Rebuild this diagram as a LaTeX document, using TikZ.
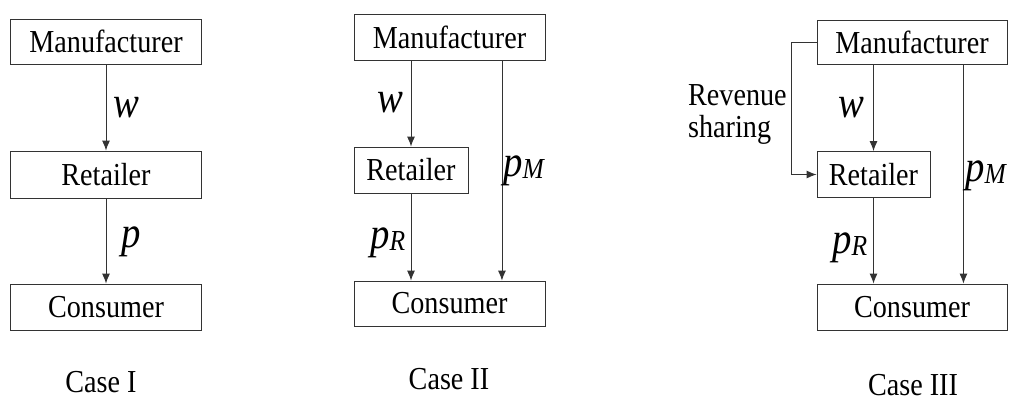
\documentclass[tikz,border=0pt]{standalone}
\usepackage{fontspec}
\setmainfont{Liberation Serif}[FakeStretch=0.88]
\usetikzlibrary{arrows.meta}
\tikzset{
  box/.style={draw=black!80, line width=0.9pt, inner sep=0pt, font=\fontsize{32}{34}\selectfont},
  arr/.style={draw=black!80, line width=0.9pt, -{Latex[length=10pt,width=8pt]}},
  var/.style={inner sep=0pt, anchor=base west, font=\fontsize{44}{46}\selectfont\itshape},
  caselabel/.style={inner sep=0pt, anchor=base, font=\fontsize{32}{34}\selectfont},
}
\newcommand{\subvar}[2]{#1\raisebox{-2pt}{\fontsize{29}{29}\selectfont #2}}

\begin{document}
\begin{tikzpicture}[x=1pt,y=-1pt]
  \useasboundingbox (0,0) rectangle (1009,405);
  \foreach \n/\x/\y/\w/\h/\t in {
    man1/106/41.5/191/45/Manufacturer,
    ret1/106/174.5/191/47/Retailer,
    con1/106/307/191/46/Consumer,
    man2/449.5/37.5/191/46/Manufacturer,
    ret2/411/170/114/46/Retailer,
    con2/449.5/303.5/191/45/Consumer,
    man3/912/42/190/44/Manufacturer,
    ret3/873.5/174.5/113/46/Retailer,
    con3/912/307/190/46/Consumer
  }{
    \node[box, minimum width=\w pt, minimum height=\h pt] (\n) at (\x,\y) {\t};
  }

  \draw[arr] (man1) -- (ret1);
  \draw[arr] (ret1) -- (con1);

  \draw[arr] (man2.south -| ret2.north) -- (ret2.north);
  \draw[arr] (ret2.south) -- (ret2.south |- con2.north);
  \draw[arr] ([xshift=-43.5pt]man2.south east) -- ([xshift=-43.5pt]con2.north east);

  \draw[arr] (man3.south -| ret3.north) -- (ret3.north);
  \draw[arr] (ret3.south) -- (ret3.south |- con3.north);
  \draw[arr] ([xshift=-44pt]man3.south east) -- ([xshift=-44pt]con3.north east);
  \draw[arr] (man3.west) -- ++(-25,0) |- (ret3.west);

  \node[var] (w1) at (113,117) {w};
  \node[var] (p1) at (121,247) {p};
  \node[var] (w2) at (377,112) {w};
  \node[var] (pm2) at (503,176) {\subvar{p}{M}};
  \node[var] (pr2) at (370,248) {\subvar{p}{R}};
  \node[var] (w3) at (838,117) {w};
  \node[var] (pm3) at (965,181) {\subvar{p}{M}};
  \node[var] (pr3) at (832,253) {\subvar{p}{R}};
  \node[inner sep=0pt, anchor=north west, align=left,
        font=\fontsize{32}{32}\selectfont] (rev) at (688,84) {Revenue\\sharing};

  \foreach \n/\x/\y/\t in {case1/101/392/Case I, case2/449/389/Case II, case3/913/395/Case III}{
    \node[caselabel] (\n) at (\x,\y) {\t};
  }
\end{tikzpicture}
\end{document}
